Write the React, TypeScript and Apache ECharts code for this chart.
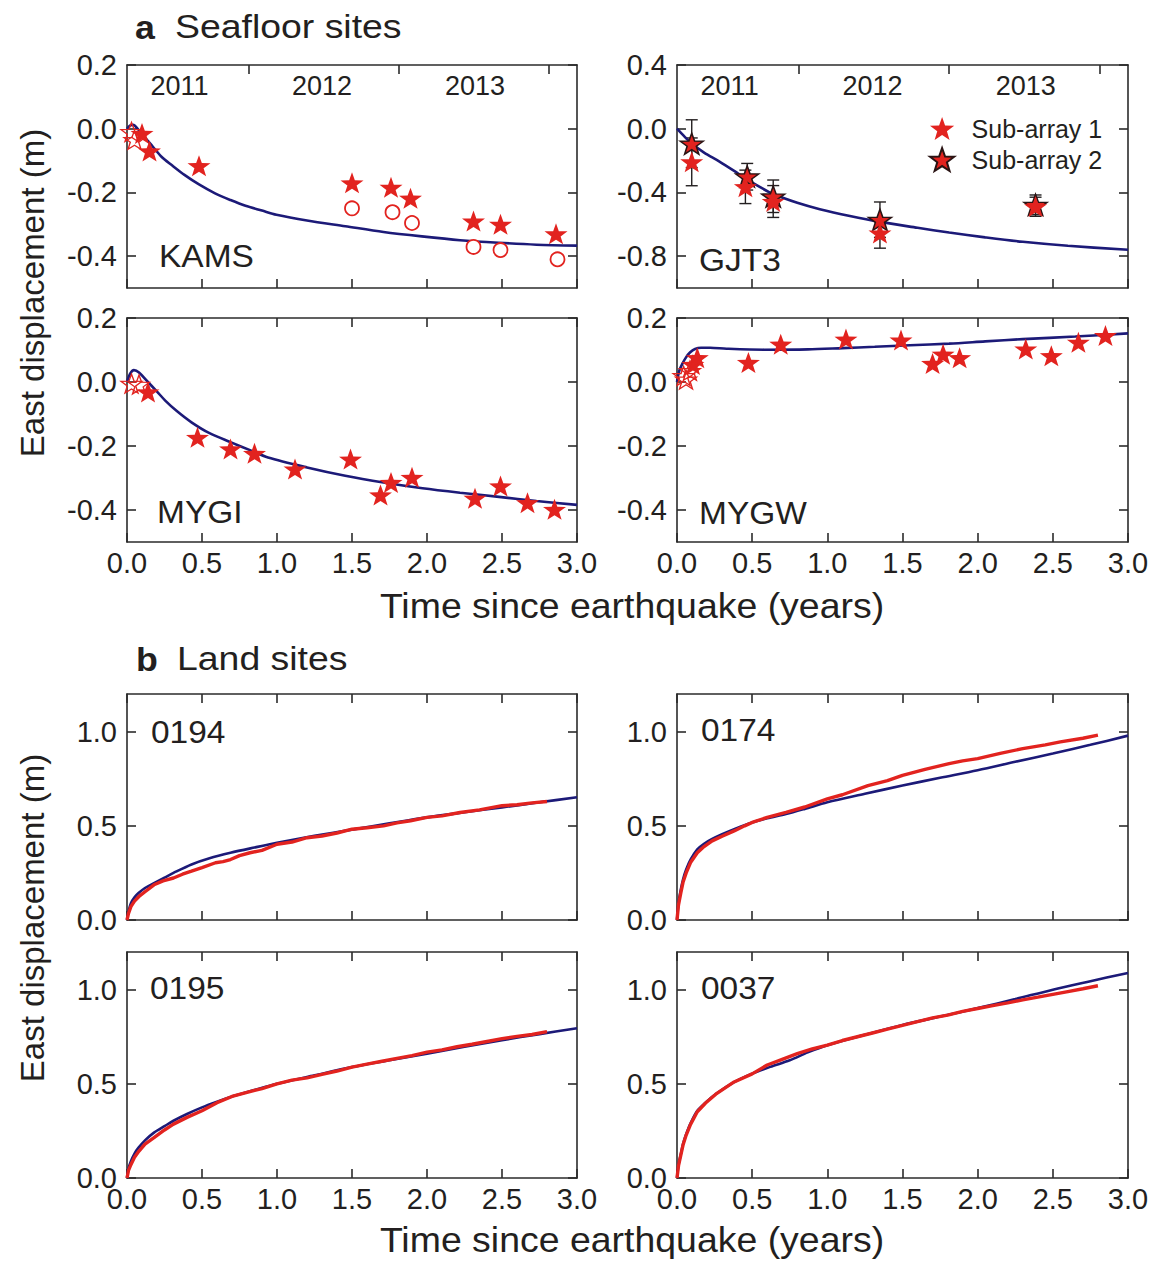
import React, { useEffect, useRef } from 'react';
import * as echarts from 'echarts';

// ---------- DATA ----------
// Panel a: KAMS
const kamsModelT = [0, 0.02, 0.04, 0.08, 0.12, 0.17, 0.23, 0.3, 0.383, 0.48, 0.587, 0.69, 0.79, 0.9, 0.996, 1.2, 1.455, 1.71, 1.966, 2.22, 2.476, 2.73, 3.0];
const kamsModelV = [0, 0.01, 0.012, -0.005, -0.028, -0.055, -0.088, -0.115, -0.145, -0.175, -0.203, -0.224, -0.242, -0.257, -0.27, -0.288, -0.306, -0.324, -0.338, -0.35, -0.358, -0.364, -0.367];
const kamsStars = [[0.10, -0.015], [0.15, -0.07], [0.48, -0.116], [1.50, -0.17], [1.76, -0.184], [1.89, -0.218], [2.31, -0.29], [2.49, -0.30], [2.86, -0.33]];
const kamsOpenStars = [[0.03, -0.01], [0.05, -0.035]];
const kamsCircles = [[1.50, -0.25], [1.77, -0.262], [1.90, -0.296], [2.31, -0.371], [2.49, -0.381], [2.87, -0.41]];

// Panel a: GJT3
const gjtModelT = [0, 0.05, 0.1, 0.18, 0.28, 0.38, 0.46, 0.55, 0.64, 0.8, 0.95, 1.15, 1.35, 1.6, 1.81, 2.05, 2.3, 2.6, 3.0];
const gjtModelV = [0, -0.05, -0.095, -0.15, -0.205, -0.265, -0.315, -0.365, -0.41, -0.465, -0.505, -0.548, -0.585, -0.622, -0.652, -0.682, -0.71, -0.735, -0.76];
const gjtSub1 = [[0.098, -0.208], [0.455, -0.364], [0.64, -0.457], [1.35, -0.655], [2.385, -0.489]];
const gjtSub2 = [[0.098, -0.094], [0.467, -0.30], [0.64, -0.426], [1.35, -0.572], [2.385, -0.478]];
const gjtSub1Err = [[0.098, -0.358, -0.058], [0.455, -0.47, -0.26], [0.64, -0.557, -0.357], [1.35, -0.75, -0.56], [2.385, -0.55, -0.43]];
const gjtSub2Err = [[0.098, -0.244, 0.056], [0.467, -0.385, -0.218], [0.64, -0.526, -0.322], [1.35, -0.682, -0.46], [2.385, -0.54, -0.416]];

// Panel a: MYGI
const mygiModelT = [0, 0.02, 0.046, 0.08, 0.13, 0.2, 0.255, 0.33, 0.43, 0.55, 0.69, 0.82, 0.94, 1.2, 1.455, 1.71, 1.97, 2.22, 2.48, 2.73, 3.0];
const mygiModelV = [0, 0.025, 0.037, 0.03, 0.005, -0.03, -0.058, -0.09, -0.126, -0.16, -0.188, -0.213, -0.236, -0.267, -0.293, -0.314, -0.332, -0.346, -0.359, -0.372, -0.384];
const mygiStars = [[0.14, -0.031], [0.47, -0.173], [0.69, -0.209], [0.85, -0.223], [1.12, -0.272], [1.49, -0.241], [1.69, -0.353], [1.76, -0.314], [1.90, -0.298], [2.32, -0.363], [2.49, -0.325], [2.67, -0.377], [2.85, -0.398]];
const mygiOpenStars = [[0.03, -0.005], [0.08, -0.008]];

// Panel a: MYGW
const mygwModelT = [0, 0.015, 0.037, 0.06, 0.086, 0.12, 0.16, 0.22, 0.33, 0.58, 0.87, 1.1, 1.315, 1.55, 1.81, 2.05, 2.3, 2.65, 3.0];
const mygwModelV = [0, 0.035, 0.058, 0.077, 0.092, 0.103, 0.107, 0.107, 0.104, 0.101, 0.102, 0.106, 0.11, 0.115, 0.12, 0.127, 0.134, 0.142, 0.152];
const mygwStars = [[0.106, 0.055], [0.135, 0.076], [0.475, 0.061], [0.69, 0.118], [1.124, 0.134], [1.49, 0.131], [1.70, 0.058], [1.77, 0.087], [1.88, 0.076], [2.32, 0.103], [2.49, 0.082], [2.67, 0.124], [2.85, 0.145]];
const mygwOpenStars = [[0.044, 0.019], [0.06, 0.008], [0.086, 0.035]];

// Panel b: land sites (model = blue, GNSS = red)
const s0194ModelT = [0, 0.01, 0.026, 0.05, 0.077, 0.12, 0.18, 0.25, 0.31, 0.43, 0.55, 0.69, 0.85, 1.0, 1.25, 1.5, 1.75, 2.0, 2.25, 2.5, 2.75, 3.0];
const s0194ModelV = [0, 0.045, 0.089, 0.12, 0.143, 0.17, 0.196, 0.225, 0.25, 0.295, 0.328, 0.357, 0.385, 0.41, 0.447, 0.48, 0.513, 0.545, 0.572, 0.598, 0.625, 0.652];
const s0194ObsT = [0, 0.01, 0.026, 0.05, 0.08, 0.12, 0.18, 0.24, 0.31, 0.37, 0.43, 0.5, 0.59, 0.64, 0.69, 0.75, 0.82, 0.9, 1.0, 1.1, 1.2, 1.3, 1.4, 1.5, 1.6, 1.71, 1.8, 1.89, 2.0, 2.1, 2.22, 2.35, 2.5, 2.6, 2.7, 2.8];
const s0194ObsV = [0, 0.035, 0.071, 0.1, 0.125, 0.15, 0.187, 0.208, 0.223, 0.243, 0.259, 0.278, 0.304, 0.31, 0.321, 0.342, 0.357, 0.37, 0.402, 0.414, 0.437, 0.446, 0.462, 0.482, 0.49, 0.5, 0.516, 0.527, 0.545, 0.553, 0.571, 0.585, 0.607, 0.612, 0.622, 0.629];

const s0174ModelT = [0, 0.01, 0.025, 0.04, 0.061, 0.09, 0.135, 0.18, 0.234, 0.3, 0.38, 0.5, 0.6, 0.725, 0.85, 1.0, 1.25, 1.5, 1.75, 2.0, 2.25, 2.5, 2.75, 3.0];
const s0174ModelV = [0, 0.09, 0.16, 0.215, 0.268, 0.32, 0.375, 0.405, 0.43, 0.455, 0.482, 0.518, 0.54, 0.5625, 0.59, 0.625, 0.67, 0.714, 0.755, 0.795, 0.84, 0.884, 0.93, 0.979];
const s0174ObsT = [0, 0.01, 0.025, 0.04, 0.061, 0.09, 0.135, 0.18, 0.234, 0.3, 0.38, 0.45, 0.5, 0.6, 0.725, 0.85, 1.0, 1.1, 1.27, 1.4, 1.5, 1.65, 1.81, 1.9, 2.0, 2.15, 2.3, 2.45, 2.55, 2.7, 2.8];
const s0174ObsV = [0, 0.08, 0.143, 0.2, 0.25, 0.305, 0.357, 0.39, 0.42, 0.445, 0.473, 0.5, 0.518, 0.545, 0.571, 0.6, 0.643, 0.665, 0.714, 0.74, 0.768, 0.8, 0.83, 0.845, 0.857, 0.885, 0.91, 0.93, 0.946, 0.965, 0.982];

const s0195ModelT = [0, 0.01, 0.026, 0.05, 0.077, 0.12, 0.18, 0.25, 0.31, 0.4, 0.5, 0.6, 0.69, 0.85, 1.0, 1.25, 1.5, 1.75, 2.0, 2.25, 2.5, 2.75, 3.0];
const s0195ModelV = [0, 0.05, 0.089, 0.13, 0.161, 0.2, 0.241, 0.275, 0.304, 0.34, 0.375, 0.405, 0.43, 0.467, 0.5, 0.545, 0.589, 0.625, 0.66, 0.697, 0.732, 0.764, 0.795];
const s0195ObsT = [0, 0.01, 0.026, 0.05, 0.08, 0.12, 0.18, 0.25, 0.31, 0.4, 0.5, 0.6, 0.7, 0.8, 0.9, 1.0, 1.1, 1.2, 1.3, 1.4, 1.5, 1.6, 1.7, 1.8, 1.9, 2.0, 2.1, 2.2, 2.3, 2.4, 2.5, 2.6, 2.7, 2.8];
const s0195ObsV = [0, 0.04, 0.071, 0.11, 0.143, 0.18, 0.214, 0.255, 0.286, 0.322, 0.357, 0.4, 0.433, 0.455, 0.475, 0.5, 0.52, 0.532, 0.55, 0.568, 0.589, 0.605, 0.62, 0.635, 0.65, 0.668, 0.68, 0.697, 0.71, 0.725, 0.74, 0.752, 0.762, 0.777];

const s0037ModelT = [0, 0.01, 0.025, 0.04, 0.061, 0.09, 0.135, 0.19, 0.258, 0.38, 0.5, 0.62, 0.75, 0.87, 1.0, 1.25, 1.5, 1.75, 2.0, 2.25, 2.5, 2.75, 3.0];
const s0037ModelV = [0, 0.07, 0.125, 0.18, 0.232, 0.29, 0.357, 0.4, 0.446, 0.509, 0.554, 0.59, 0.625, 0.667, 0.705, 0.76, 0.8125, 0.857, 0.902, 0.95, 1.0, 1.045, 1.089];
const s0037ObsT = [0, 0.01, 0.025, 0.04, 0.061, 0.09, 0.135, 0.19, 0.258, 0.38, 0.5, 0.6, 0.7, 0.8, 0.9, 1.0, 1.1, 1.2, 1.3, 1.4, 1.5, 1.6, 1.7, 1.8, 1.9, 2.0, 2.1, 2.2, 2.3, 2.4, 2.5, 2.6, 2.7, 2.8];
const s0037ObsV = [0, 0.065, 0.12, 0.175, 0.228, 0.285, 0.352, 0.398, 0.445, 0.51, 0.553, 0.6, 0.63, 0.66, 0.685, 0.705, 0.73, 0.75, 0.77, 0.79, 0.81, 0.83, 0.85, 0.865, 0.885, 0.9, 0.915, 0.93, 0.946, 0.96, 0.975, 0.99, 1.005, 1.021];

// Axis ticks / labels
const yearBoundaries = [0.81, 1.81, 2.81];
const yearLabelPos = [0.35, 1.30, 2.32];
const yearLabels = ['2011', '2012', '2013'];
const yTicksA = [-0.4, -0.2, 0.0, 0.2];
const yTicksGJT = [-0.8, -0.4, 0.0, 0.4];
const yTicksB = [0.0, 0.5, 1.0];

// ---------- STYLE ----------
const FONT = '"Liberation Sans", Arial, Helvetica, sans-serif';
const TXT = '#231f20';
const BLUE = '#1c1a78';
const RED = '#e2231f';
const AXC = '#2b2b2b';
const STAR = 'path://M0,-10L2.35,-3.24L9.51,-3.09L3.8,1.24L5.88,8.09L0,4.2L-5.88,8.09L-3.8,1.24L-9.51,-3.09L-2.35,-3.24Z';

const zip = (t: number[], v: number[]) => t.map((x, i) => [x, v[i]]);

type Panel = {
  left: number; top: number; width: number; height: number;
  ymin: number; ymax: number; yTicks: number[];
  showX: boolean; years: boolean;
};

const panels: Panel[] = [
  { left: 127, top: 65, width: 450, height: 223, ymin: -0.5, ymax: 0.2, yTicks: yTicksA, showX: false, years: true },
  { left: 677, top: 65, width: 451, height: 223, ymin: -1.0, ymax: 0.4, yTicks: yTicksGJT, showX: false, years: true },
  { left: 127, top: 318, width: 450, height: 224, ymin: -0.5, ymax: 0.2, yTicks: yTicksA, showX: true, years: false },
  { left: 677, top: 318, width: 451, height: 224, ymin: -0.5, ymax: 0.2, yTicks: yTicksA, showX: true, years: false },
  { left: 127, top: 694, width: 450, height: 226, ymin: 0, ymax: 1.2, yTicks: yTicksB, showX: false, years: false },
  { left: 677, top: 694, width: 451, height: 226, ymin: 0, ymax: 1.2, yTicks: yTicksB, showX: false, years: false },
  { left: 127, top: 952, width: 450, height: 226, ymin: 0, ymax: 1.2, yTicks: yTicksB, showX: true, years: false },
  { left: 677, top: 952, width: 451, height: 226, ymin: 0, ymax: 1.2, yTicks: yTicksB, showX: true, years: false },
];

function buildOption() {
  const grid: any[] = [];
  const xAxis: any[] = [];
  const yAxis: any[] = [];
  const lineStyle = { color: AXC, width: 1.6 };
  const tick = { show: true, inside: true, length: 9, lineStyle };
  const fmt = (v: number) => Number(v).toFixed(1);

  panels.forEach((p, i) => {
    grid.push({ left: p.left, top: p.top, width: p.width, height: p.height, containLabel: false });
    xAxis.push({
      gridIndex: i, type: 'value', position: 'bottom', min: 0, max: 3, interval: 0.5,
      axisLine: { show: true, onZero: false, lineStyle },
      axisTick: { ...tick },
      splitLine: { show: false },
      axisLabel: {
        show: p.showX, fontSize: 29, color: TXT, fontFamily: FONT, margin: 6,
        showMinLabel: true, showMaxLabel: true, formatter: fmt,
      },
    });
    xAxis.push({
      gridIndex: i, type: 'value', position: 'top', min: 0, max: 3, interval: 0.5,
      axisLine: { show: true, onZero: false, lineStyle },
      axisTick: p.years ? { ...tick, customValues: yearBoundaries } : { ...tick },
      splitLine: { show: false },
      axisLabel: p.years
        ? {
            show: true, inside: true, customValues: yearLabelPos, margin: 7,
            fontSize: 27, color: TXT, fontFamily: FONT,
            formatter: (v: number) => {
              const k = yearLabelPos.findIndex((q) => Math.abs(q - v) < 1e-6);
              return k >= 0 ? yearLabels[k] : '';
            },
          }
        : { show: false },
    });
    yAxis.push({
      gridIndex: i, type: 'value', position: 'left', min: p.ymin, max: p.ymax,
      axisLine: { show: true, onZero: false, lineStyle },
      axisTick: { ...tick, customValues: p.yTicks },
      splitLine: { show: false },
      axisLabel: {
        show: true, customValues: p.yTicks, fontSize: 29, color: TXT, fontFamily: FONT,
        margin: 10, formatter: fmt,
      },
    });
    yAxis.push({
      gridIndex: i, type: 'value', position: 'right', min: p.ymin, max: p.ymax,
      axisLine: { show: true, onZero: false, lineStyle },
      axisTick: { ...tick, customValues: p.yTicks },
      splitLine: { show: false },
      axisLabel: { show: false },
    });
  });

  const ax = (i: number) => ({ xAxisIndex: 2 * i, yAxisIndex: 2 * i });
  const model = (name: string, i: number, t: number[], v: number[]) => ({
    name, type: 'line', ...ax(i), data: zip(t, v), smooth: 0.3, symbol: 'none',
    lineStyle: { color: BLUE, width: 2.6 }, z: 3,
  });
  const obsLine = (name: string, i: number, t: number[], v: number[]) => ({
    name, type: 'line', ...ax(i), data: zip(t, v), symbol: 'none',
    lineStyle: { color: RED, width: 3.4 }, z: 4,
  });
  const stars = (name: string, i: number, d: number[][]) => ({
    name, type: 'scatter', ...ax(i), data: d, symbol: STAR, symbolSize: [23, 21],
    itemStyle: { color: RED, opacity: 1 }, z: 5,
  });
  const openStars = (name: string, i: number, d: number[][]) => ({
    name, type: 'scatter', ...ax(i), data: d, symbol: STAR, symbolSize: [21, 19],
    itemStyle: { color: 'rgba(255,255,255,0)', borderColor: RED, borderWidth: 1.3, opacity: 1 }, z: 5,
  });
  const circles = (name: string, i: number, d: number[][]) => ({
    name, type: 'scatter', ...ax(i), data: d, symbol: 'circle', symbolSize: 14,
    itemStyle: { color: '#ffffff', borderColor: RED, borderWidth: 1.8, opacity: 1 }, z: 5,
  });
  const errBars = (name: string, i: number, d: number[][]) => ({
    name, type: 'custom', ...ax(i), data: d, encode: { x: 0, y: [1, 2] }, z: 2,
    renderItem: (params: any, api: any) => {
      const x = api.value(0);
      const lo = api.coord([x, api.value(1)]);
      const hi = api.coord([x, api.value(2)]);
      const w = 6;
      const st = { stroke: '#231f20', lineWidth: 1.4 };
      return {
        type: 'group',
        children: [
          { type: 'line', shape: { x1: lo[0], y1: lo[1], x2: hi[0], y2: hi[1] }, style: st },
          { type: 'line', shape: { x1: lo[0] - w, y1: lo[1], x2: lo[0] + w, y2: lo[1] }, style: st },
          { type: 'line', shape: { x1: hi[0] - w, y1: hi[1], x2: hi[0] + w, y2: hi[1] }, style: st },
        ],
      };
    },
  });

  const series: any[] = [
    model('KAMS model', 0, kamsModelT, kamsModelV),
    circles('KAMS circles', 0, kamsCircles),
    openStars('KAMS early', 0, kamsOpenStars),
    stars('KAMS', 0, kamsStars),

    errBars('GJT3 err 1', 1, gjtSub1Err),
    errBars('GJT3 err 2', 1, gjtSub2Err),
    model('GJT3 model', 1, gjtModelT, gjtModelV),
    {
      name: 'Sub-array 2', type: 'scatter', ...ax(1), data: gjtSub2, symbol: STAR, symbolSize: [23, 21],
      itemStyle: { color: RED, borderColor: '#2a1414', borderWidth: 1.5, opacity: 1 }, z: 5,
    },
    {
      name: 'Sub-array 1', type: 'scatter', ...ax(1), data: gjtSub1, symbol: STAR, symbolSize: [23, 21],
      itemStyle: { color: RED, opacity: 1 }, z: 5,
    },

    model('MYGI model', 2, mygiModelT, mygiModelV),
    openStars('MYGI early', 2, mygiOpenStars),
    stars('MYGI', 2, mygiStars),

    model('MYGW model', 3, mygwModelT, mygwModelV),
    openStars('MYGW early', 3, mygwOpenStars),
    stars('MYGW', 3, mygwStars),

    model('0194 model', 4, s0194ModelT, s0194ModelV),
    obsLine('0194', 4, s0194ObsT, s0194ObsV),
    model('0174 model', 5, s0174ModelT, s0174ModelV),
    obsLine('0174', 5, s0174ObsT, s0174ObsV),
    model('0195 model', 6, s0195ModelT, s0195ModelV),
    obsLine('0195', 6, s0195ObsT, s0195ObsV),
    model('0037 model', 7, s0037ModelT, s0037ModelV),
    obsLine('0037', 7, s0037ObsT, s0037ObsV),
  ];

  const txt = (text: string, x: number, y: number, size: number, extra: any = {}, sx = 1) => ({
    type: 'text', x, y, scaleX: sx, silent: true,
    style: {
      text, fontSize: size, fontFamily: FONT, fill: TXT,
      align: 'left', verticalAlign: 'middle', ...extra,
    },
  });
  const rot = (text: string, x: number, y: number, size: number) => ({
    type: 'text', x, y, rotation: Math.PI / 2, silent: true,
    style: { text, fontSize: size, fontFamily: FONT, fill: TXT, align: 'center', verticalAlign: 'middle' },
  });

  const graphic: any[] = [
    txt('a', 135, 27, 34, { fontWeight: 'bold' }, 1.05),
    txt('Seafloor sites', 175, 27, 34, {}, 1.1),
    txt('b', 136, 659, 34, { fontWeight: 'bold' }, 1.05),
    txt('Land sites', 177, 659, 34, {}, 1.1),
    txt('KAMS', 159, 256, 31, {}, 1.08),
    txt('GJT3', 699, 260, 31, {}, 1.08),
    txt('MYGI', 157, 512, 31, {}, 1.08),
    txt('MYGW', 699, 513, 31, {}, 1.08),
    txt('0194', 151, 732, 31, {}, 1.08),
    txt('0174', 701, 730, 31, {}, 1.08),
    txt('0195', 150, 988, 31, {}, 1.08),
    txt('0037', 701, 988, 31, {}, 1.08),
    rot('East displacement (m)', 32, 293, 33),
    rot('East displacement (m)', 32, 918, 33),
    txt('Time since earthquake (years)', 632, 606, 35, { align: 'center' }, 1.07),
    txt('Time since earthquake (years)', 632, 1240, 35, { align: 'center' }, 1.07),
  ];

  return {
    animation: false,
    backgroundColor: '#ffffff',
    textStyle: { fontFamily: FONT },
    grid, xAxis, yAxis, series, graphic,
    legend: {
      show: true, orient: 'vertical', left: 924, top: 111,
      itemWidth: 25, itemHeight: 23, itemGap: 6, selectedMode: false,
      textStyle: { fontSize: 25, color: TXT, fontFamily: FONT, padding: [0, 0, 0, 12] },
      data: [
        { name: 'Sub-array 1', icon: STAR },
        { name: 'Sub-array 2', icon: STAR },
      ],
    },
  };
}

export default function App() {
  const ref = useRef<HTMLDivElement>(null);
  useEffect(() => {
    if (!ref.current) return;
    const chart = echarts.init(ref.current, null, { renderer: 'svg' });
    chart.setOption(buildOption() as any);
    return () => chart.dispose();
  }, []);
  return (
    <div
      ref={ref}
      style={{ position: 'absolute', left: 0, top: 0, width: 1157, height: 1264, background: '#ffffff' }}
    />
  );
}
